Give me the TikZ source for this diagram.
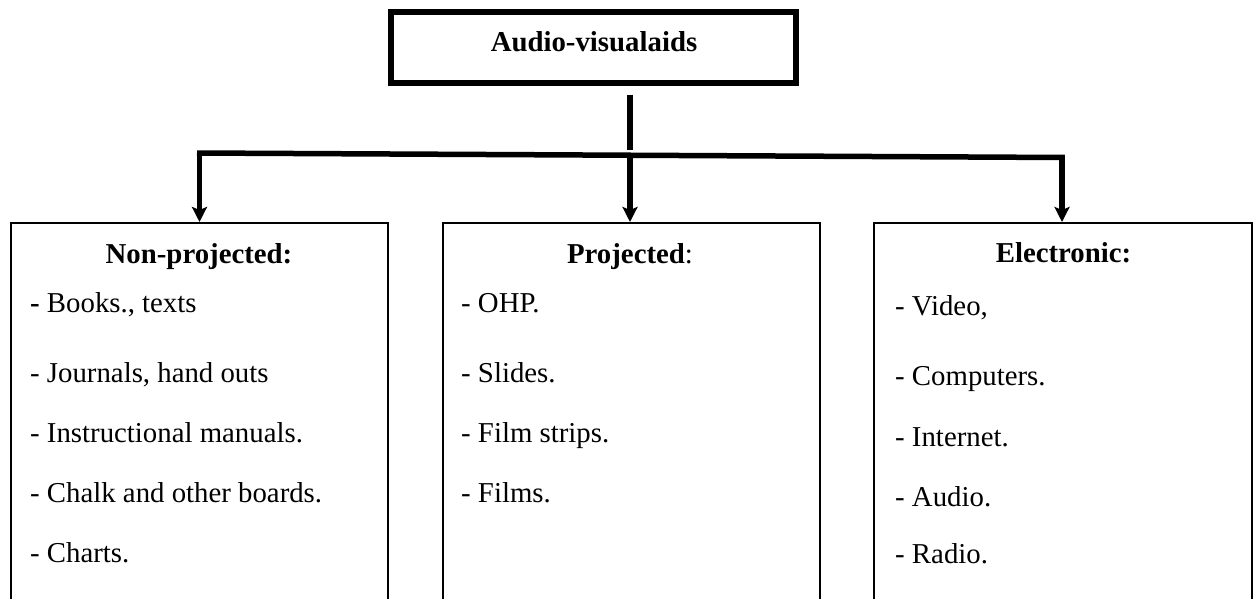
\documentclass[tikz,border=0pt]{standalone}
\usepackage{fontspec}
\setmainfont{Liberation Serif}
\usetikzlibrary{arrows.meta}
\begin{document}
\begin{tikzpicture}[x=1pt,y=-1pt,
  thickline/.style={line width=5.5pt},
  topbox/.style={draw, line width=5.5pt, minimum width=405pt, minimum height=71pt, inner sep=0pt},
  catbox/.style={draw, line width=1.8pt, minimum height=440pt, anchor=north, inner sep=0pt},
  arr/.style={line width=5.5pt, -{Stealth[length=15pt,width=15pt,inset=3pt]}},
  heading/.style={anchor=base, font=\fontsize{28.8}{34}\selectfont, inner sep=0pt},
  itemtext/.style={anchor=base west, font=\fontsize{28.8}{34}\selectfont, inner sep=0pt}]
\useasboundingbox (0,0) rectangle (1257,599);
\fill[white] (0,0) rectangle (1257,599);
\clip (0,0) rectangle (1257,599);
% top box
\node[topbox] (top) at (593.5,47.5) {};
\node[heading] (toptext) at (594,52) {\textbf{Audio-visualaids}};
% category boxes
\node[catbox, minimum width=377pt] (left) at (199.5,222) {};
\node[catbox, minimum width=377pt] (mid) at (631.5,222) {};
\node[catbox, minimum width=378pt] (right) at (1063,222) {};
% connectors
\coordinate (hl) at (197,153);
\coordinate (hr) at (1064.75,157.5);
\coordinate (hub) at (630,155.2);
\draw[thickline, shorten <=9pt, shorten >=5pt] (top.south -| hub) -- (hub);
\draw[thickline] (hl) -- (hr);
\draw[arr] (left.north |- hl) -- (left.north);
\draw[arr] (630,158) -- (630,222);
\draw[arr] (1062,157.5) -- (1062,222);
% headings
\node[heading] (h1) at (199,263) {\textbf{Non-projected:}};
\node[heading] (h2) at (630,263) {\textbf{Projected}:};
\node[heading] (h3) at (1063.5,262) {\textbf{Electronic:}};
% left items
\node[itemtext] (l1) at (30,312) {\textbf{-} Books., texts};
\node[itemtext] (l2) at (30,382) {- Journals, hand outs};
\node[itemtext] (l3) at (30,442) {- Instructional manuals.};
\node[itemtext] (l4) at (30,502) {- Chalk and other boards.};
\node[itemtext] (l5) at (30,562) {- Charts.};
% middle items
\node[itemtext] (m1) at (461,312) {- OHP.};
\node[itemtext] (m2) at (461,382) {- Slides.};
\node[itemtext] (m3) at (461,442) {- Film strips.};
\node[itemtext] (m4) at (461,502) {- Films.};
% right items
\node[itemtext] (r1) at (895,315) {- Video,};
\node[itemtext] (r2) at (895,385) {- Computers.};
\node[itemtext] (r3) at (895,446) {- Internet.};
\node[itemtext] (r4) at (895,506) {- Audio.};
\node[itemtext] (r5) at (895,563) {- Radio.};
\end{tikzpicture}
\end{document}
